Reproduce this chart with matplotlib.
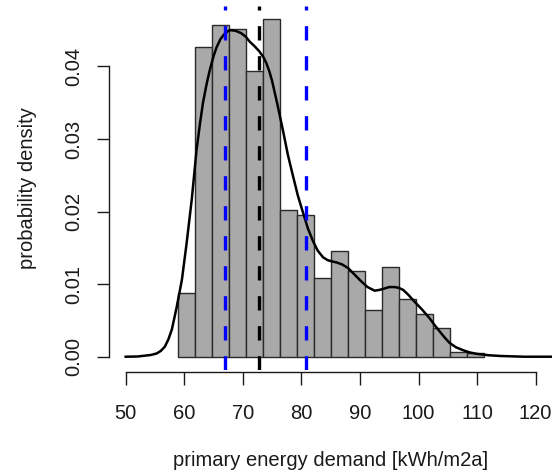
"""Histogram of primary energy demand with density curve and quantile lines."""

import matplotlib
matplotlib.use("Agg")
import matplotlib.pyplot as plt

plt.rcParams["font.family"] = ["Liberation Sans", "DejaVu Sans"]

# histogram bins (kWh/m2a) and densities
bin_edges = [58.9, 61.8, 64.7, 67.6, 70.5, 73.4, 76.3, 79.2, 82.1, 85.0,
             87.9, 90.8, 93.7, 96.6, 99.5, 102.4, 105.3, 108.2, 111.1]
bin_density = [0.0088, 0.0427, 0.0457, 0.0451, 0.0394, 0.0465, 0.0202,
               0.0195, 0.0109, 0.0145, 0.0118, 0.0064, 0.0123, 0.0079,
               0.0059, 0.0039, 0.0007, 0.0005]

# kernel density curve
kde_x = [50.0, 52.0, 53.0, 54.3, 55.3, 56.0, 56.7, 57.3, 57.9, 58.7, 59.6,
         60.4, 61.3, 62.1, 62.7, 63.2, 63.8, 64.3, 65.0, 65.5, 66.2, 66.9,
         67.5, 68.0, 68.8, 69.7, 70.5, 71.2, 72.0, 72.8, 73.5, 74.0, 74.5,
         75.0, 75.9, 76.9, 77.7, 78.6, 79.4, 80.3, 81.1, 82.0, 82.8, 83.7,
         84.5, 85.4, 86.0, 87.0, 88.0, 89.1, 90.2, 91.3, 92.5, 93.3, 94.2,
         95.0, 95.9, 96.6, 97.4, 98.3, 99.3, 100.6, 101.9, 102.7, 103.6,
         104.4, 105.3, 106.4, 107.6, 108.7, 109.9, 112.0, 114.0, 118.0,
         123.0]
kde_y = [0.0, 0.00003, 0.00012, 0.00024, 0.00045, 0.0008, 0.0014, 0.0024,
         0.0038, 0.0068, 0.0106, 0.0156, 0.0218, 0.0285, 0.0322, 0.0350,
         0.0375, 0.0393, 0.0414, 0.0426, 0.0438, 0.0445, 0.0449, 0.0450,
         0.0449, 0.0446, 0.0441, 0.0434, 0.0428, 0.0421, 0.0413, 0.0405,
         0.0394, 0.0380, 0.0348, 0.0310, 0.0278, 0.0248, 0.0222, 0.0198,
         0.0177, 0.0159, 0.0146, 0.0137, 0.0133, 0.0131, 0.0130, 0.0127,
         0.0122, 0.0113, 0.0104, 0.0096, 0.0091, 0.0092, 0.0094, 0.0096,
         0.0096, 0.0095, 0.0092, 0.0085, 0.0076, 0.0065, 0.0053, 0.0044,
         0.0035, 0.0027, 0.0019, 0.0013, 0.0009, 0.0006, 0.0004, 0.0002,
         0.0001, 0.0, 0.0]

# quantile markers
median_value = 72.8
band_values = [66.9, 80.8]

x_ticks = [50, 60, 70, 80, 90, 100, 110, 120]
y_ticks = [0.00, 0.01, 0.02, 0.03, 0.04]

TEXT = "#1a1a1a"

fig = plt.figure(figsize=(5.53, 4.75), dpi=100)
ax = fig.add_axes([0.1976, 0.2206, 0.8007, 0.7672])

widths = [b - a for a, b in zip(bin_edges[:-1], bin_edges[1:])]
ax.bar(bin_edges[:-1], bin_density, width=widths, align="edge",
       color="#a9a9a9", edgecolor="#2a2a2a", linewidth=1.0, zorder=1)

ax.plot(kde_x, kde_y, color="black", linewidth=1.8, zorder=2,
        solid_joinstyle="round")

ax.axvline(median_value, color="black", linewidth=2.4,
           dashes=(4.3, 4.7), zorder=3)
for v in band_values:
    ax.axvline(v, color="#0000ff", linewidth=2.4, dashes=(4.3, 4.7), zorder=3)

ax.set_xlim(47.2, 122.8)
ax.set_ylim(-0.00186, 0.04836)

for side in ("top", "right"):
    ax.spines[side].set_visible(False)
ax.spines["bottom"].set_bounds(50, 120)
ax.spines["left"].set_bounds(0.0, 0.04)
ax.spines["bottom"].set_position(("outward", 1.5))
for side in ("bottom", "left"):
    ax.spines[side].set_color(TEXT)
    ax.spines[side].set_linewidth(1.0)

ax.set_xticks(x_ticks)
ax.set_xticklabels([str(t) for t in x_ticks])
ax.set_yticks(y_ticks)
ax.set_yticklabels([f"{t:.2f}" for t in y_ticks], rotation=90, va="center")
ax.tick_params(axis="both", length=9, width=1.0, color=TEXT,
               labelsize=14.5, labelcolor=TEXT)
ax.tick_params(axis="x", pad=14)
ax.tick_params(axis="y", pad=10)

ax.set_xlabel("primary energy demand [kWh/m2a]", fontsize=14.5, color=TEXT,
              labelpad=20)
ax.set_ylabel("probability density", fontsize=14.5, color=TEXT, labelpad=19)

fig.savefig("out.png", dpi=100)
plt.close(fig)
